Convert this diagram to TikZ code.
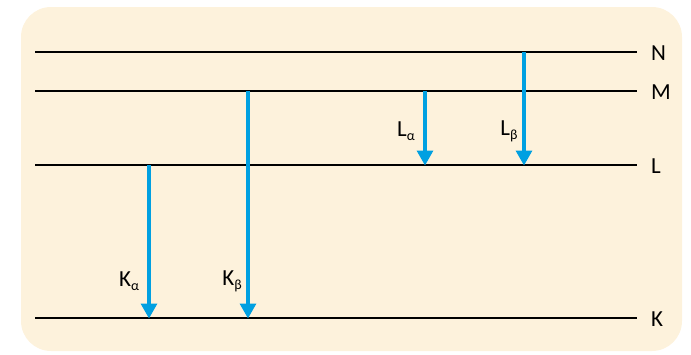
\documentclass[tikz,border=0pt]{standalone}
\usepackage{fontspec}
\setmainfont{Carlito}
\usetikzlibrary{arrows.meta}
\definecolor{bgc}{RGB}{253,242,220}
\definecolor{arr}{RGB}{0,160,225}
\newcommand{\subgr}[1]{\raisebox{-4pt}{\fontsize{14}{14}\selectfont #1}}
\tikzset{
  level/.style={line width=2.4pt,black},
  trans/.style={line width=3.2pt,arr,-{Triangle[length=15pt,width=16pt]},shorten >=-0.5pt},
  lbl/.style={font=\fontsize{23}{26}\selectfont,inner sep=0pt,anchor=west},
  tlbl/.style={font=\fontsize{23}{26}\selectfont,inner sep=0pt}
}
\begin{document}
\begin{tikzpicture}[x=1pt,y=-1pt]
\useasboundingbox (0,0) rectangle (691,354);
\fill[bgc,rounded corners=30pt] (21,7) rectangle (682,351);
% levels
\coordinate (N0) at (35,52); \coordinate (N1) at (637,52);
\coordinate (M0) at (35,91); \coordinate (M1) at (637,91);
\coordinate (L0) at (35,165); \coordinate (L1) at (637,165);
\coordinate (K0) at (35,318); \coordinate (K1) at (637,318);
\draw[level] (N0) -- (N1);
\draw[level] (M0) -- (M1);
\draw[level] (L0) -- (L1);
\draw[level] (K0) -- (K1);
\node[lbl] (nN) at (651,53) {N};
\node[lbl] (nM) at (651,92) {M};
\node[lbl] (nL) at (651,166) {L};
\node[lbl] (nK) at (651,319) {K};
% transitions
\coordinate (ka0) at (149,165); \coordinate (ka1) at (149,318);
\coordinate (kb0) at (248,91); \coordinate (kb1) at (248,318);
\coordinate (la0) at (425,91); \coordinate (la1) at (425,165);
\coordinate (lb0) at (524,52); \coordinate (lb1) at (524,165);
\draw[trans] (ka0) -- (ka1);
\draw[trans] (kb0) -- (kb1);
\draw[trans] (la0) -- (la1);
\draw[trans] (lb0) -- (lb1);
\node[tlbl] (tka) at (129,281) {K\subgr{α}};
\node[tlbl] (tkb) at (232,281) {K\subgr{β}};
\node[tlbl] (tla) at (406,131) {L\subgr{α}};
\node[tlbl] (tlb) at (509,131) {L\subgr{β}};
\end{tikzpicture}
\end{document}
